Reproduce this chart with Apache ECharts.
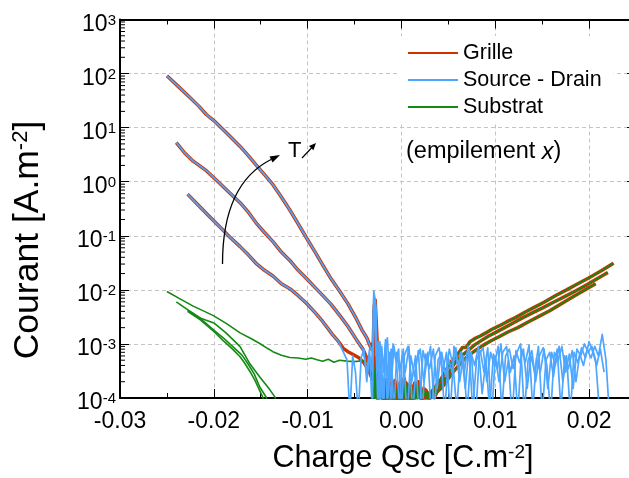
<!DOCTYPE html>
<html><head><meta charset="utf-8">
<script src="https://cdn.jsdelivr.net/npm/echarts@6/dist/echarts.min.js"></script>
<style>html,body{margin:0;padding:0;background:#fff}#c{width:629px;height:478px}</style>
</head><body><div id="c"></div>
<script>
// ---- axis ticks / labels ----
const xTicks = [-0.03, -0.02, -0.01, 0.00, 0.01, 0.02];
const yDecades = [1e-4, 1e-3, 1e-2, 1e-1, 1e0, 1e1, 1e2, 1e3];
const yMinorMantissas = [2, 3, 4, 5, 6, 7, 8, 9];
const legendNames = ['Grille', 'Source - Drain', 'Substrat'];

// ---- left branches (Grille and Source-Drain coincide) ----
const left1 = [[-0.0250,91],[-0.0238,58],[-0.0226,37],[-0.0216,25],[-0.0208,17.5],[-0.0200,13.5],[-0.0194,10.7],[-0.0184,7.2],[-0.0172,4.5],[-0.0163,3.0],[-0.0155,2.05],[-0.0146,1.35],[-0.0137,0.88],[-0.0128,0.52],[-0.0119,0.30],[-0.0110,0.165],[-0.0101,0.09],[-0.0092,0.05],[-0.0084,0.029],[-0.0075,0.016],[-0.0066,0.0095],[-0.0057,0.0055],[-0.0048,0.0029],[-0.0042,0.0018],[-0.0037,0.0013],[-0.0032,8e-4]];
const left2 = [[-0.0240,5.3],[-0.0231,3.4],[-0.0222,2.4],[-0.0208,1.6],[-0.0194,0.95],[-0.0183,0.62],[-0.0172,0.41],[-0.0163,0.27],[-0.0155,0.174],[-0.0146,0.115],[-0.0137,0.078],[-0.0128,0.05],[-0.0119,0.035],[-0.0110,0.023],[-0.0101,0.016],[-0.0092,0.011],[-0.0084,0.0079],[-0.0075,0.0054],[-0.0066,0.0034],[-0.0057,0.0021],[-0.0048,0.0012],[-0.0041,8e-4]];
const left3 = [[-0.0228,0.59],[-0.0218,0.39],[-0.0206,0.24],[-0.0194,0.148],[-0.0183,0.095],[-0.0172,0.063],[-0.0163,0.044],[-0.0155,0.031],[-0.0146,0.023],[-0.0137,0.018],[-0.0128,0.013],[-0.0119,0.0105],[-0.0110,0.0078],[-0.0101,0.0056],[-0.0092,0.0038],[-0.0084,0.0026],[-0.0078,0.0019],[-0.0073,0.00145],[-0.0067,0.0011],[-0.0062,8.3e-4]];

// ---- Grille: spike + low-level noise around Qsc = 0 ----
const grilleMid1 = [[-0.0030,1.1e-3],[-0.0029,5e-3],[-0.0028,6.5e-3],[-0.0027,6.3e-3],[-0.0026,1.2e-3],[-0.0025,2.5e-4],[-0.0022,1.5e-4],[-0.0019,6e-5],[-0.0016,2.2e-4],[-0.0013,8e-5],[-0.0010,1.8e-4],[-0.0007,6e-5],[-0.0004,1.4e-4],[-0.0001,2.0e-4],[0.0002,9e-5],[0.0005,1.6e-4],[0.0008,7e-5],[0.0011,1.3e-4],[0.0014,1.9e-4],[0.0017,1.1e-4],[0.0020,1.7e-4],[0.0023,1.0e-4],[0.0026,1.4e-4],[0.0029,1.1e-4],[0.0032,1.3e-4],[0.0035,1.5e-4],[0.0038,1.8e-4],[0.0042,2.2e-4],[0.0046,2.9e-4]];
const grilleMid2 = [[-0.0037,5.5e-4],[-0.0033,3.5e-4],[-0.0030,2.5e-4],[-0.0029,4e-3],[-0.0028,3e-3],[-0.0027,3e-4],[-0.0024,1.2e-4],[-0.0021,2.4e-4],[-0.0018,7e-5],[-0.0015,1.6e-4],[-0.0012,2.2e-4],[-0.0009,8e-5],[-0.0006,1.5e-4],[-0.0003,6e-5],[0.0000,1.7e-4],[0.0003,2.3e-4],[0.0006,1.0e-4],[0.0009,1.8e-4],[0.0012,6e-5],[0.0015,1.4e-4],[0.0018,2.0e-4],[0.0021,9e-5],[0.0024,1.5e-4],[0.0027,1.2e-4],[0.0030,1.0e-4],[0.0033,1.2e-4],[0.0036,1.3e-4],[0.0040,1.6e-4],[0.0044,2.0e-4],[0.0048,2.5e-4],[0.0052,3.2e-4]];
const grilleMid3 = [[-0.0056,7e-4],[-0.0051,6.3e-4],[-0.0045,5.5e-4],[-0.0040,4.5e-4],[-0.0035,3.3e-4],[-0.0031,2.2e-4],[-0.0029,1.5e-3],[-0.0028,2e-4],[-0.0025,9e-5],[-0.0022,1.9e-4],[-0.0019,1.1e-4],[-0.0016,6e-5],[-0.0013,1.7e-4],[-0.0010,1.2e-4],[-0.0007,2.1e-4],[-0.0004,7e-5],[-0.0001,1.5e-4],[0.0002,6e-5],[0.0005,1.9e-4],[0.0008,1.3e-4],[0.0011,8e-5],[0.0014,1.6e-4],[0.0017,1.0e-4],[0.0020,1.5e-4],[0.0023,7e-5],[0.0026,1.2e-4],[0.0029,9e-5],[0.0032,1.1e-4],[0.0035,1.0e-4],[0.0038,1.3e-4],[0.0042,1.5e-4],[0.0046,1.8e-4],[0.0050,2.3e-4],[0.0055,3.0e-4]];

// ---- right branches (Grille and Substrat coincide) ----
const rightA = [[0.0051,4.2e-4],[0.0056,5.4e-4],[0.0061,6.8e-4],[0.0065,8.6e-4],[0.0069,8.6e-4],[0.0073,1.1e-3],[0.0078,1.25e-3],[0.0084,1.4e-3],[0.0090,1.6e-3],[0.0096,1.85e-3],[0.0104,2.15e-3],[0.0112,2.55e-3],[0.0122,3.1e-3],[0.0132,3.9e-3],[0.0142,4.8e-3],[0.0152,5.9e-3],[0.0164,7.8e-3],[0.0176,1.0e-2],[0.0188,1.3e-2],[0.0200,1.68e-2],[0.0213,2.25e-2],[0.0226,3.1e-2]];
const rightB = [[0.0055,4.0e-4],[0.0060,5.2e-4],[0.0066,6.4e-4],[0.0072,7.8e-4],[0.0078,9.6e-4],[0.0085,1.15e-3],[0.0093,1.4e-3],[0.0101,1.65e-3],[0.0110,2.0e-3],[0.0120,2.5e-3],[0.0130,3.1e-3],[0.0140,3.8e-3],[0.0150,4.6e-3],[0.0162,5.9e-3],[0.0174,7.5e-3],[0.0186,9.6e-3],[0.0198,1.25e-2],[0.0209,1.62e-2],[0.0220,2.1e-2]];
const rightC = [[0.0060,3.8e-4],[0.0066,5.0e-4],[0.0072,6.2e-4],[0.0079,7.6e-4],[0.0087,9.4e-4],[0.0095,1.13e-3],[0.0104,1.36e-3],[0.0114,1.68e-3],[0.0124,2.0e-3],[0.0135,2.55e-3],[0.0146,3.2e-3],[0.0158,4.1e-3],[0.0170,5.5e-3],[0.0182,7.3e-3],[0.0194,9.6e-3],[0.0207,1.3e-2]];

// ---- Source - Drain: spike then noise floor ----
const sdNoise1 = [[-0.0030,6e-4],[-0.00295,9.5e-3],[-0.0028,6.5e-3],[-0.0027,4.5e-3],[-0.0026,3e-4],[-0.0023,9e-4],[-0.0020,6e-5],[-0.0017,1.0e-3],[-0.0014,2e-4],[-0.0011,8e-4],[-0.0008,5e-5],[-0.0005,7e-4],[-0.0002,3e-4],[0.0002,8e-4],[0.0006,4e-5],[0.0010,6e-4],[0.0014,2.5e-4],[0.0018,7.5e-4],[0.0022,5e-5],[0.0026,6.5e-4],[0.0030,3.5e-4],[0.0034,8e-4],[0.0038,1.5e-4],[0.0042,7e-4],[0.0046,5e-5],[0.0050,5.5e-4],[0.0054,3e-4],[0.0058,8.5e-4],[0.0062,2e-4],[0.0066,6e-4],[0.0070,5e-5],[0.0074,7e-4],[0.0078,4e-4],[0.0082,9e-4],[0.0086,1.2e-4],[0.0090,5e-4],[0.0094,6e-5],[0.0098,6.5e-4],[0.0102,3.5e-4],[0.0106,1.0e-3],[0.0110,2e-4],[0.0114,5e-4],[0.0118,4e-5],[0.0122,7.5e-4],[0.0126,4.5e-4],[0.0130,8e-4],[0.0134,1.5e-4],[0.0138,6e-4],[0.0142,3e-4],[0.0146,9e-4],[0.0150,5e-5],[0.0154,5e-4],[0.0158,7e-4],[0.0162,2.5e-4],[0.0166,8e-4],[0.0170,6e-5],[0.0174,6e-4],[0.0178,3.5e-4],[0.0182,7.5e-4],[0.0186,2e-4],[0.0190,6.5e-4],[0.0194,4e-4],[0.0198,8e-4],[0.0202,5.5e-4],[0.0206,9e-4],[0.0210,6e-4],[0.0214,1.5e-3],[0.0218,5e-4],[0.0222,4e-5]];
const sdNoise2 = [[-0.0037,3e-4],[-0.0034,8e-4],[-0.0031,5e-5],[-0.00295,8.5e-3],[-0.0028,5e-3],[-0.0027,6e-4],[-0.0025,1.1e-3],[-0.0023,5e-5],[-0.0021,9e-4],[-0.0019,3e-4],[-0.0017,1.2e-3],[-0.0015,4e-5],[-0.0013,7e-4],[-0.0011,2e-4],[-0.0008,9e-4],[-0.0005,4e-4],[-0.0002,6e-5],[0.0001,7e-4],[0.0004,3e-4],[0.0008,9e-4],[0.0012,5e-5],[0.0016,5e-4],[0.0020,8e-4],[0.0024,2e-4],[0.0028,7e-4],[0.0032,4e-5],[0.0036,6e-4],[0.0040,8.5e-4],[0.0044,3e-4],[0.0048,7e-4],[0.0052,5e-5],[0.0056,9e-4],[0.0060,4e-4],[0.0064,7e-4],[0.0068,1.5e-4],[0.0072,8e-4],[0.0076,6e-5],[0.0080,5e-4],[0.0084,7.5e-4],[0.0088,3e-4],[0.0092,8.5e-4],[0.0096,4e-5],[0.0100,6e-4],[0.0104,2e-4],[0.0108,7e-4],[0.0112,9e-4],[0.0116,3e-4],[0.0120,6e-4],[0.0124,5e-5],[0.0128,8e-4],[0.0132,4.5e-4],[0.0136,9.5e-4],[0.0140,6e-5],[0.0144,5.5e-4],[0.0148,3e-4],[0.0152,8e-4],[0.0156,1.5e-4],[0.0160,7e-4],[0.0164,4e-4],[0.0168,9e-4],[0.0172,2e-4],[0.0176,6e-4],[0.0180,5e-5],[0.0184,7e-4],[0.0188,4.5e-4],[0.0192,8.5e-4],[0.0196,5.5e-4],[0.0200,1.1e-3],[0.0204,7e-4],[0.0208,4e-4],[0.0212,8e-4],[0.0216,3e-4]];
const sdNoise3 = [[-0.0058,5e-4],[-0.0055,5e-5],[-0.0052,6e-4],[-0.0049,3e-4],[-0.0046,5e-5],[-0.0043,5.5e-4],[-0.0040,8e-4],[-0.0037,2e-4],[-0.0034,6e-4],[-0.0031,3e-4],[-0.00295,7e-3],[-0.0028,2e-3],[-0.0027,8e-4],[-0.0025,6e-5],[-0.0023,1.1e-3],[-0.0021,4e-4],[-0.0019,5e-5],[-0.0017,8e-4],[-0.0015,1.3e-3],[-0.0013,3e-4],[-0.0011,6e-5],[-0.0009,1.0e-3],[-0.0006,5e-4],[-0.0003,8e-4],[0.0000,5e-5],[0.0003,6e-4],[0.0007,9e-4],[0.0011,2e-4],[0.0015,6e-4],[0.0019,4e-5],[0.0023,7.5e-4],[0.0027,4e-4],[0.0031,9e-4],[0.0035,6e-5],[0.0039,5e-4],[0.0043,7e-4],[0.0047,2.5e-4],[0.0051,8e-4],[0.0055,4e-4],[0.0059,6e-5],[0.0063,7e-4],[0.0067,3e-4],[0.0071,9e-4],[0.0075,5e-4],[0.0079,4e-5],[0.0083,6.5e-4],[0.0087,8.5e-4],[0.0091,2e-4],[0.0095,7e-4],[0.0099,4e-4],[0.0103,9e-4],[0.0107,6e-5],[0.0111,6e-4],[0.0115,8e-4],[0.0119,3.5e-4],[0.0123,7e-4],[0.0127,1.0e-3],[0.0131,5e-5],[0.0135,5e-4],[0.0139,7.5e-4],[0.0143,2e-4],[0.0147,6e-4],[0.0151,8.5e-4],[0.0155,4e-4],[0.0159,5e-5],[0.0163,7e-4],[0.0167,5e-4],[0.0171,9e-4],[0.0175,3e-4],[0.0179,6.5e-4],[0.0183,1.5e-4],[0.0187,8e-4],[0.0191,6e-4],[0.0195,1.0e-3],[0.0199,7e-4],[0.0203,9e-4],[0.0207,5e-4],[0.0211,6e-5]];

// ---- Substrat ----
const subLeft1 = [[-0.0250,9.3e-3],[-0.0236,6.8e-3],[-0.0222,5.0e-3],[-0.0210,4.0e-3],[-0.0200,3.3e-3],[-0.0186,2.35e-3],[-0.0172,1.6e-3],[-0.0160,1.25e-3],[-0.0151,1.02e-3],[-0.0143,8.3e-4],[-0.0137,7.2e-4],[-0.0128,6.2e-4],[-0.0119,5.6e-4],[-0.0110,5.5e-4],[-0.0102,5.2e-4],[-0.0096,5.5e-4],[-0.0090,5.1e-4],[-0.0084,4.8e-4],[-0.0078,5.2e-4],[-0.0072,4.6e-4],[-0.0066,5.0e-4],[-0.0058,4.8e-4],[-0.0050,4.7e-4],[-0.0042,4.9e-4],[-0.0035,4.6e-4],[-0.0030,4.4e-4]];
const subLeft2 = [[-0.0240,6.0e-3],[-0.0228,4.3e-3],[-0.0214,3.0e-3],[-0.0200,2.45e-3],[-0.0187,1.6e-3],[-0.0172,8.9e-4],[-0.0162,4.4e-4],[-0.0151,2.45e-4],[-0.0140,1.4e-4],[-0.0135,1.05e-4],[-0.0132,7e-5]];
const subLeft3 = [[-0.0228,4.2e-3],[-0.0214,2.9e-3],[-0.0200,1.8e-3],[-0.0190,1.3e-3],[-0.0180,9e-4],[-0.0170,6.2e-4],[-0.0164,4.4e-4],[-0.0157,2.8e-4],[-0.0151,1.6e-4],[-0.0144,1.02e-4],[-0.0141,7e-5]];
const subLeft4 = [[-0.0228,4.0e-3],[-0.0214,2.75e-3],[-0.0200,1.7e-3],[-0.0190,1.15e-3],[-0.0180,8e-4],[-0.0172,5.8e-4],[-0.0167,4.4e-4],[-0.0161,3.0e-4],[-0.0156,2.1e-4],[-0.0148,1.05e-4],[-0.0145,7e-5]];
const subMid1 = [[-0.0029,2.8e-4],[-0.0028,6e-5],[-0.0026,2.4e-4],[-0.0023,7e-5],[-0.0020,1.8e-4],[-0.0017,5e-5],[-0.0014,1.5e-4],[-0.0011,6e-5],[-0.0008,1.2e-4],[-0.0005,5e-5],[-0.0002,1.6e-4],[0.0001,8e-5],[0.0004,2.1e-4],[0.0007,9e-5],[0.0010,1.7e-4],[0.0013,7e-5],[0.0016,1.9e-4],[0.0019,1.0e-4],[0.0022,1.4e-4],[0.0025,1.1e-4],[0.0028,1.3e-4],[0.0031,1.2e-4],[0.0034,1.5e-4],[0.0037,1.7e-4],[0.0041,2.1e-4],[0.0046,2.9e-4]];
const subMid2 = [[-0.0031,7e-5],[-0.0029,2.0e-4],[-0.0027,5e-5],[-0.0024,1.6e-4],[-0.0021,6e-5],[-0.0018,1.3e-4],[-0.0015,2.2e-4],[-0.0012,7e-5],[-0.0009,1.4e-4],[-0.0006,5e-5],[-0.0003,1.8e-4],[0.0000,9e-5],[0.0003,1.5e-4],[0.0006,6e-5],[0.0009,1.9e-4],[0.0012,1.1e-4],[0.0015,7e-5],[0.0018,1.6e-4],[0.0021,1.0e-4],[0.0024,1.3e-4],[0.0027,9e-5],[0.0030,1.2e-4],[0.0033,1.1e-4],[0.0036,1.4e-4],[0.0040,1.6e-4],[0.0044,2.0e-4],[0.0048,2.5e-4],[0.0052,3.2e-4]];
const subMid3 = [[-0.0030,6e-5],[-0.0028,1.7e-4],[-0.0025,8e-5],[-0.0022,1.4e-4],[-0.0019,5e-5],[-0.0016,1.9e-4],[-0.0013,9e-5],[-0.0010,5e-5],[-0.0007,1.5e-4],[-0.0004,1.1e-4],[-0.0001,6e-5],[0.0002,1.7e-4],[0.0005,8e-5],[0.0008,1.3e-4],[0.0011,6e-5],[0.0014,1.5e-4],[0.0017,9e-5],[0.0020,1.2e-4],[0.0023,7e-5],[0.0026,1.0e-4],[0.0029,8e-5],[0.0032,1.1e-4],[0.0035,1.0e-4],[0.0038,1.3e-4],[0.0042,1.5e-4],[0.0046,1.8e-4],[0.0050,2.3e-4],[0.0055,3.0e-4]];

const RED = '#CC3300', BLUE = '#4DA6FF', GREEN = '#148A14';
const FONT = 'Liberation Sans, Arial, sans-serif';
const X_MIN = xTicks[0], X_MAX = 0.025;

function line(name, data, color, width, z) {
  return { name, type: 'line', data, symbol: 'circle', symbolSize: 0, showSymbol: false, clip: true, z,
    lineStyle: { color, width, join: 'round' }, itemStyle: { color }, emphasis: { disabled: true }, animation: false };
}
// log-spaced minor ticks on the left axis (2..9 x 10^n)
const minorTickValues = [];
yDecades.slice(0, -1).forEach(d => yMinorMantissas.forEach(m => minorTickValues.push([X_MIN, m * d])));

const series = [
  line('Grille', left1.concat(grilleMid1, rightA), RED, 3.5, 2),
  line('Grille', left2.concat(grilleMid2, rightB), RED, 3.5, 2),
  line('Grille', left3.concat(grilleMid3, rightC), RED, 3.5, 2),
  line('Substrat', subLeft1.concat(subMid1, rightA), GREEN, 1.6, 3),
  line('Substrat', subLeft2.concat(subMid2, rightB), GREEN, 1.6, 3),
  line('Substrat', subLeft3.concat(subMid3, rightC), GREEN, 1.6, 3),
  line('Substrat', subLeft4, GREEN, 1.6, 3),
  line('Source - Drain', left1.concat(sdNoise1), BLUE, 1.7, 4),
  line('Source - Drain', left2.concat(sdNoise2), BLUE, 1.7, 4),
  line('Source - Drain', left3.slice(0, left3.length - 1).concat(sdNoise3), BLUE, 1.7, 4),
  { type: 'custom', name: 'minorTicks', silent: true, z: 5, clip: false, data: minorTickValues,
    renderItem: (params, api) => {
      const p = api.coord([api.value(0), api.value(1)]);
      return { type: 'line', shape: { x1: p[0], y1: p[1], x2: p[0] + 5, y2: p[1] }, style: { stroke: '#000', lineWidth: 1 } };
    } }
];

const supRich = (big, small, pad) => ({
  b: { fontSize: big, lineHeight: big, verticalAlign: 'bottom', fontFamily: FONT, fill: '#000', color: '#000' },
  s: { fontSize: small, lineHeight: small, verticalAlign: 'top', padding: [0, 0, pad, 0], fontFamily: FONT, fill: '#000', color: '#000' }
});
const gridStyle = { color: '#c4c4c4', type: [4, 3], width: 1 };

const chart = echarts.init(document.getElementById('c'), null, { renderer: 'canvas' });
chart.setOption({
  animation: false,
  backgroundColor: '#fff',
  textStyle: { fontFamily: FONT },
  grid: { left: 120, top: 19.5, width: 516, bottom: 80, containLabel: false, outerBoundsMode: 'none' },
  legend: {
    data: legendNames, orient: 'vertical', left: 400, top: 36,
    itemWidth: 50, itemHeight: 14, itemGap: 5, backgroundColor: '#fff',
    padding: [6, 12, 6, 7], selectedMode: false,
    itemStyle: { opacity: 0 },
    textStyle: { fontSize: 21.5, color: '#000', fontFamily: FONT, lineHeight: 22 }
  },
  xAxis: [{
    type: 'value', min: X_MIN, max: X_MAX, interval: 0.01, position: 'bottom',
    axisLine: { onZero: false, lineStyle: { color: '#000', width: 2 } },
    axisTick: { inside: true, length: 9, lineStyle: { color: '#000', width: 1 } },
    minorTick: { show: true, splitNumber: 2, length: 5, lineStyle: { color: '#000', width: 1 } },
    splitLine: { show: true, lineStyle: gridStyle },
    axisLabel: { margin: 12, fontSize: 23, color: '#000', fontFamily: FONT, showMaxLabel: false,
      formatter: v => { const t = xTicks.find(q => Math.abs(q - v) < 1e-9); return t === undefined ? '' : t.toFixed(2); } }
  }, {
    type: 'value', min: X_MIN, max: X_MAX, interval: 0.01, position: 'top',
    axisLine: { onZero: false, lineStyle: { color: '#000', width: 2 } },
    axisTick: { inside: true, length: 9, lineStyle: { color: '#000', width: 1 } },
    minorTick: { show: true, splitNumber: 2, length: 5, lineStyle: { color: '#000', width: 1 } },
    splitLine: { show: false }, axisLabel: { show: false }
  }],
  yAxis: [{
    type: 'log', logBase: 10, min: yDecades[0], max: yDecades[yDecades.length - 1], splitNumber: 7,
    axisLine: { show: true, onZero: false, lineStyle: { color: '#000', width: 2 } },
    axisTick: { show: true, inside: true, length: 9, lineStyle: { color: '#000', width: 1 } },
    minorTick: { show: false },
    splitLine: { show: true, lineStyle: gridStyle },
    axisLabel: { margin: 4, padding: [10, 0, 0, 0],
      formatter: v => '{b|10}{s|' + Math.round(Math.log10(v)) + '}', rich: supRich(23, 15, 14) }
  }, {
    type: 'log', logBase: 10, min: yDecades[0], max: yDecades[yDecades.length - 1], splitNumber: 7, position: 'right',
    axisLine: { show: true, onZero: false, lineStyle: { color: '#000', width: 2 } },
    axisTick: { show: true, inside: true, length: 9, lineStyle: { color: '#000', width: 1 } },
    splitLine: { show: false }, axisLabel: { show: false }
  }],
  series: series,
  graphic: [
    { type: 'text', silent: true, x: 403, y: 459,
      style: { text: '{b|Charge Qsc [C.m}{s|-2}{b|]}', align: 'center', verticalAlign: 'middle', rich: supRich(30.5, 19, 16) } },
    { type: 'text', silent: true, x: 28, y: 240, rotation: Math.PI / 2,
      style: { text: '{b|Courant [A.m}{s|-2}{b|]}', align: 'center', verticalAlign: 'middle', rich: supRich(35.5, 22, 19) } },
    { type: 'bezierCurve', silent: true, z: 10,
      shape: { x1: 222.5, y1: 264, cpx1: 222.5, cpy1: 184, x2: 271, y2: 159.5 },
      style: { stroke: '#000', lineWidth: 1.3, fill: null } },
    { type: 'polygon', silent: true, z: 10,
      shape: { points: [[280, 155], [272.6, 162.6], [269.5, 156.4]] }, style: { fill: '#000' } },
    { type: 'text', silent: true, z: 10, x: 288, y: 151,
      style: { text: 'T', fontSize: 22, fontFamily: FONT, fill: '#000', verticalAlign: 'middle' } },
    { type: 'line', silent: true, z: 10, shape: { x1: 302, y1: 158, x2: 311.5, y2: 148 },
      style: { stroke: '#000', lineWidth: 1.2 } },
    { type: 'polygon', silent: true, z: 10,
      shape: { points: [[316, 143], [313.4, 150.2], [309.0, 146.1]] }, style: { fill: '#000' } },
    { type: 'text', silent: true, z: 10, x: 406, y: 152,
      style: { text: '{n|(empilement }{i|x}{n|)}', verticalAlign: 'middle', rich: {
        n: { fontSize: 23.5, fontFamily: FONT, fill: '#000' },
        i: { fontSize: 23.5, fontFamily: FONT, fontStyle: 'italic', fill: '#000' } } } }
  ]
});
</script></body></html>
